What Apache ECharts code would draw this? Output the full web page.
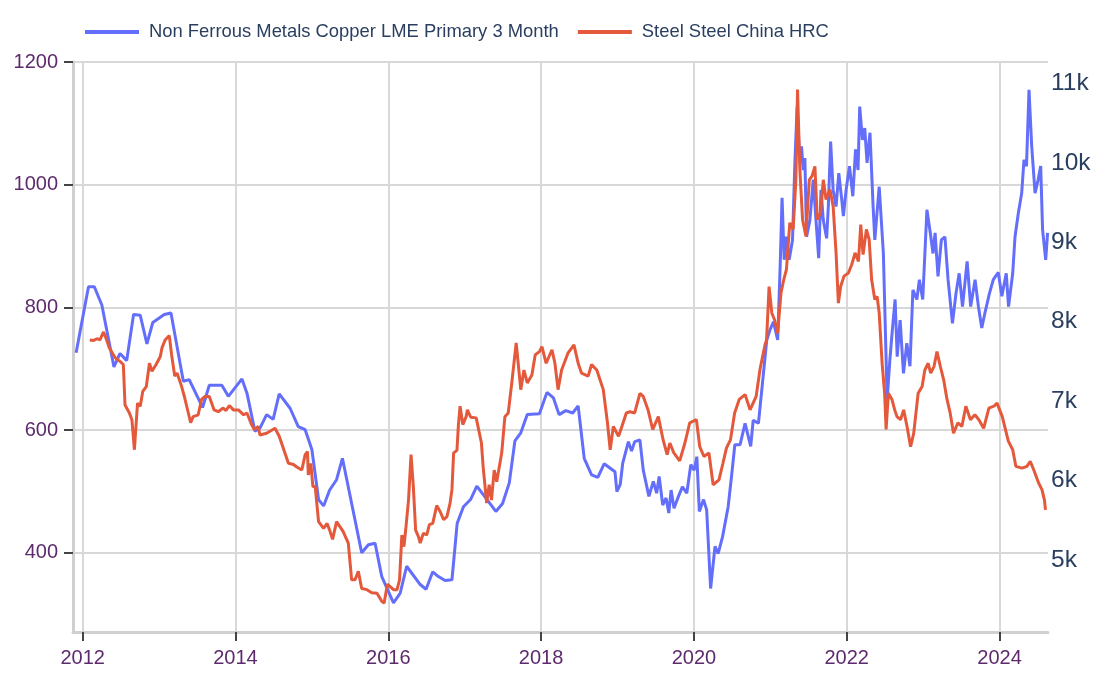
<!DOCTYPE html>
<html>
<head>
<meta charset="utf-8">
<script src="https://cdn.jsdelivr.net/npm/echarts@6/dist/echarts.min.js"></script>
<style>html,body{margin:0;padding:0;background:#fff}#c{width:1100px;height:700px}</style>
</head>
<body>
<div id="c"></div>
<script>
var seriesNames = ['Non Ferrous Metals Copper LME Primary 3 Month', 'Steel Steel China HRC'];
var xTickYears = [2012, 2014, 2016, 2018, 2020, 2022, 2024];
var leftTicks = [400, 600, 800, 1000, 1200];
var rightTicks = [5000, 6000, 7000, 8000, 9000, 10000, 11000];
var xRange = ['2011-11-16', '2024-08-20'];

var copperDates = ['2011-12-01','2012-01-29','2012-02-26','2012-04-02','2012-05-30','2012-06-28','2012-07-30','2012-09-01','2012-10-03','2012-11-04','2012-12-02',
'2013-01-26','2013-02-27','2013-04-27','2013-05-25','2013-07-28','2013-08-29','2013-10-28','2013-11-28','2014-02-01','2014-02-25','2014-04-04','2014-04-28','2014-05-30','2014-06-30','2014-07-29','2014-09-19','2014-10-28','2014-11-30',
'2015-01-01','2015-02-02','2015-02-26','2015-03-27','2015-04-29','2015-05-27','2015-08-27','2015-09-28','2015-10-30','2015-12-01',
'2016-01-26','2016-02-27','2016-03-29','2016-06-02','2016-06-30','2016-08-01','2016-08-28','2016-09-29','2016-11-01','2016-11-26','2016-12-26',
'2017-01-29','2017-02-28','2017-05-30','2017-07-01','2017-08-02','2017-08-29','2017-09-26','2017-10-27','2017-12-24',
'2018-01-29','2018-03-01','2018-03-28','2018-04-29','2018-06-01','2018-06-27','2018-07-26','2018-08-30','2018-09-29','2018-10-29','2018-12-20','2018-12-29',
'2019-01-14','2019-01-26','2019-02-22','2019-03-09','2019-03-24','2019-04-18','2019-05-04','2019-05-31','2019-06-21','2019-07-07','2019-07-19','2019-08-05','2019-08-21','2019-09-03','2019-09-14','2019-09-28','2019-10-19','2019-11-07','2019-11-28','2019-12-17',
'2020-01-02','2020-01-15','2020-01-27','2020-02-16','2020-03-02','2020-03-21','2020-04-11','2020-04-26','2020-05-17','2020-06-13','2020-06-29','2020-07-15','2020-08-09','2020-09-02','2020-09-29','2020-10-11','2020-11-05','2020-11-26','2020-12-15','2020-12-31',
'2021-01-16','2021-02-05','2021-02-17','2021-02-26','2021-03-08','2021-03-19','2021-04-01','2021-04-17','2021-04-28','2021-05-09','2021-05-22','2021-05-30','2021-06-07','2021-06-15','2021-06-23','2021-07-09','2021-07-25','2021-08-07','2021-08-20','2021-08-31','2021-09-11','2021-09-27','2021-10-05','2021-10-16','2021-10-28','2021-11-11','2021-11-24','2021-12-08','2021-12-16','2021-12-29',
'2022-01-14','2022-01-30','2022-02-12','2022-02-24','2022-03-04','2022-03-17','2022-03-28','2022-04-08','2022-04-22','2022-05-07','2022-05-15','2022-06-05','2022-06-25','2022-07-13','2022-07-26','2022-08-07','2022-08-20','2022-08-30','2022-09-13','2022-09-29','2022-10-15','2022-10-30','2022-11-13','2022-12-02','2022-12-14','2022-12-30',
'2023-01-19','2023-02-04','2023-02-17','2023-02-27','2023-03-13','2023-03-29','2023-04-15','2023-04-30','2023-05-21','2023-06-07','2023-06-22','2023-07-08','2023-07-30','2023-08-16','2023-09-06','2023-09-22','2023-10-08','2023-10-23','2023-11-14','2023-12-02','2023-12-26',
'2024-01-12','2024-02-02','2024-02-13','2024-03-04','2024-03-15','2024-03-31','2024-04-16','2024-04-27','2024-05-09','2024-05-21','2024-06-03','2024-06-19','2024-07-04','2024-07-16','2024-07-25','2024-08-09','2024-08-18'];
var copperValues = [7610,8440,8440,8210,7430,7600,7510,8090,8080,7720,7990,
8090,8110,7250,7270,6920,7200,7200,7060,7280,7100,6620,6660,6830,6770,7090,6910,6680,6640,
6390,5760,5680,5880,6010,6280,5090,5190,5210,4790,
4460,4580,4920,4690,4630,4850,4790,4740,4750,5460,5670,
5760,5930,5610,5710,5970,6500,6600,6830,6840,
7110,7040,6830,6880,6850,6940,6280,6070,6040,6210,6110,5860,
5950,6220,6490,6370,6490,6510,6130,5800,5990,5840,6050,5690,5780,5590,5880,5650,5800,5920,5840,6200,
6130,6300,5610,5760,5630,4640,5170,5080,5290,5670,6050,6450,6450,6720,6430,6760,6720,7270,7770,7900,
8000,7770,8700,9560,8780,9070,8780,9030,9980,10710,10000,10210,9910,10060,9070,9280,9790,9280,8800,9660,9280,9050,9450,10270,9660,9450,9870,9540,9330,9660,
9960,9580,10170,9910,10710,10290,10440,10000,10380,9450,9030,9700,8860,7020,7520,7900,8280,7560,8020,7350,7730,7440,8400,8280,8530,8280,
9410,9120,8860,9120,8570,9030,9070,8530,7980,8360,8610,8190,8760,8190,8530,8190,7920,8110,8360,8530,8620,
8320,8610,8190,8610,9070,9370,9620,10040,9960,10920,10210,9620,9790,9960,9160,8780,9120];

var steelDates = ['2012-02-04','2012-02-23','2012-03-09','2012-03-24','2012-04-10','2012-04-22','2012-05-08','2012-06-05','2012-06-28','2012-07-14','2012-07-22','2012-08-12','2012-08-24','2012-09-05','2012-09-20','2012-10-03','2012-10-15','2012-11-01','2012-11-16','2012-11-28','2012-12-18',
'2013-01-07','2013-01-15','2013-01-30','2013-02-19','2013-03-02','2013-03-17','2013-03-28','2013-04-19','2013-05-04','2013-06-01','2013-06-13','2013-07-07','2013-07-23','2013-08-09','2013-08-29','2013-09-21','2013-10-11','2013-11-02','2013-11-17','2013-12-03','2013-12-22',
'2014-01-15','2014-02-09','2014-02-25','2014-03-19','2014-04-01','2014-04-20','2014-04-28','2014-05-30','2014-07-09','2014-07-29','2014-09-11','2014-10-05','2014-10-21','2014-11-14','2014-11-30','2014-12-11','2014-12-15','2014-12-27',
'2015-01-06','2015-01-17','2015-02-02','2015-02-26','2015-03-15','2015-03-27','2015-04-10','2015-04-29','2015-05-30','2015-06-24','2015-07-10','2015-07-26','2015-08-11','2015-08-27','2015-09-21','2015-10-14','2015-11-08','2015-12-01','2015-12-12','2015-12-28',
'2016-01-10','2016-01-26','2016-02-12','2016-02-24','2016-03-06','2016-03-16','2016-03-26','2016-04-07','2016-04-19','2016-04-30','2016-05-11','2016-05-24','2016-06-02','2016-06-17','2016-07-03','2016-07-16','2016-08-01','2016-08-20','2016-09-06','2016-09-22','2016-10-08','2016-10-23','2016-11-01','2016-11-09','2016-11-25','2016-12-02','2016-12-10','2016-12-23',
'2017-01-08','2017-01-14','2017-01-30','2017-02-25','2017-03-22','2017-03-30','2017-04-16','2017-04-28','2017-05-09','2017-05-22','2017-06-03','2017-06-27','2017-07-12','2017-07-28','2017-08-14','2017-09-04','2017-09-26','2017-10-11','2017-10-27','2017-11-18','2017-12-04','2017-12-24',
'2018-01-05','2018-01-25','2018-02-22','2018-03-08','2018-03-23','2018-04-09','2018-05-10','2018-06-07','2018-06-27','2018-07-13','2018-08-14','2018-08-30','2018-09-24','2018-10-25','2018-11-14','2018-11-27','2018-12-12',
'2019-01-06','2019-01-22','2019-02-12','2019-03-01','2019-03-24','2019-04-18','2019-05-04','2019-05-27','2019-06-18','2019-07-15','2019-08-07','2019-08-26','2019-09-08','2019-09-27','2019-10-25','2019-11-19','2019-12-12',
'2020-01-13','2020-01-29','2020-02-18','2020-03-13','2020-04-02','2020-04-30','2020-05-19','2020-06-05','2020-06-24','2020-07-14','2020-08-05','2020-09-02','2020-09-26','2020-10-25','2020-11-13','2020-12-07','2020-12-14','2020-12-26',
'2021-01-08','2021-01-21','2021-02-05','2021-02-21','2021-03-06','2021-03-19','2021-04-04','2021-04-20','2021-05-03','2021-05-11','2021-05-22','2021-06-04','2021-06-20','2021-07-06','2021-07-19','2021-08-02','2021-08-13','2021-08-29','2021-09-11','2021-09-24','2021-10-13','2021-10-28','2021-11-11','2021-11-22','2021-12-03','2021-12-19',
'2022-01-09','2022-01-25','2022-02-10','2022-02-26','2022-03-09','2022-03-20','2022-04-05','2022-04-18','2022-04-30','2022-05-15','2022-05-26','2022-06-05','2022-06-19','2022-07-01','2022-07-08','2022-07-19','2022-08-05','2022-08-18','2022-08-29','2022-09-15','2022-09-30','2022-10-16','2022-11-02','2022-11-17','2022-12-08','2022-12-27',
'2023-01-09','2023-01-25','2023-02-06','2023-02-22','2023-03-08','2023-03-24','2023-04-09','2023-04-25','2023-05-10','2023-05-26','2023-06-16','2023-07-05','2023-07-24','2023-08-15','2023-09-05','2023-09-24','2023-10-17','2023-11-11','2023-12-05','2023-12-20',
'2024-01-14','2024-02-12','2024-03-04','2024-03-19','2024-04-18','2024-05-11','2024-05-27','2024-06-13','2024-07-06','2024-07-22','2024-08-03','2024-08-08'];
var steelValues = [747,746,749,747,760,750,734,718,712,707,641,628,617,568,644,639,663,671,709,696,707,
720,734,747,754,723,688,693,671,652,612,622,625,650,655,655,633,630,636,632,640,633,
633,625,628,609,601,606,592,595,603,590,546,544,540,535,560,565,527,546,
508,508,451,440,448,437,422,451,435,416,356,356,370,342,340,335,334,321,318,349,
345,340,340,356,429,410,443,486,560,508,437,427,416,432,429,446,448,477,467,454,459,481,503,563,567,609,639,609,
622,633,621,620,579,541,481,511,486,535,516,563,622,628,677,742,666,698,677,690,723,728,
736,709,731,709,666,698,726,739,709,693,688,707,698,666,612,568,606,
590,606,628,630,628,660,655,633,601,622,584,560,579,563,550,579,612,
617,573,557,563,511,519,546,571,584,628,650,658,633,655,700,740,747,834,
791,780,758,824,845,862,938,927,1008,1155,1025,943,916,1008,1014,1030,943,954,1008,976,992,965,889,807,834,851,
856,870,889,875,935,886,927,911,845,813,818,791,709,660,601,660,650,633,622,617,633,606,573,595,660,671,
698,709,693,704,728,704,682,650,628,595,612,606,639,617,625,617,603,636,639,644,
622,582,568,541,538,541,549,535,514,503,486,470];

// Convert an ISO date string to a fractional year (time position on a linear value axis)
function toYear(s) {
  var p = s.split('-').map(Number);
  var start = Date.UTC(p[0], 0, 1), end = Date.UTC(p[0] + 1, 0, 1);
  return p[0] + (Date.UTC(p[0], p[1] - 1, p[2]) - start) / (end - start);
}
function pairs(d, v) { return d.map(function (x, i) { return [toYear(x), v[i]]; }); }

var FONT = 'Liberation Sans, Arial, sans-serif';
var chart = echarts.init(document.getElementById('c'), null, { renderer: 'canvas' });
chart.setOption({
  animation: false,
  backgroundColor: '#fff',
  legend: {
    left: 85, top: 20, padding: 0, icon: 'rect', itemWidth: 54, itemHeight: 4, itemGap: 19,
    textStyle: { fontFamily: FONT, fontSize: 18.4, color: '#2a3f5f', lineHeight: 24, padding: [0, 0, 0, 5] },
    data: seriesNames
  },
  grid: { left: 73, right: 52, top: 62, bottom: 68, outerBoundsMode: 'none' },
  xAxis: {
    type: 'value', min: toYear(xRange[0]), max: toYear(xRange[1]),
    axisLine: { show: true, lineStyle: { color: '#d0d0d0', width: 3 } },
    axisTick: { show: true, length: 9, lineStyle: { color: '#444', width: 2 }, customValues: xTickYears },
    axisLabel: {
      customValues: xTickYears, margin: 16, fontSize: 20, color: '#5e2a6e', fontFamily: FONT,
      formatter: function (v) { return String(Math.round(v)); }
    },
    splitLine: { show: true, lineStyle: { color: '#d8d8d8', width: 2 } }
  },
  yAxis: [{
    type: 'value', min: 271, max: 1200, position: 'left',
    axisLine: { show: true, lineStyle: { color: '#d0d0d0', width: 3 } },
    axisTick: { show: true, length: 9, lineStyle: { color: '#444', width: 2 }, customValues: leftTicks },
    axisLabel: { customValues: leftTicks, margin: 15, fontSize: 20, color: '#5e2a6e', fontFamily: FONT,
      formatter: function (v) { return String(v); } },
    splitLine: { show: true, lineStyle: { color: '#d8d8d8', width: 2 } }
  }, {
    type: 'value', min: 4092, max: 11271, position: 'right',
    axisLine: { show: false }, axisTick: { show: false },
    axisLabel: { customValues: rightTicks, margin: 3, fontSize: 24.5, color: '#2a3f5f', fontFamily: FONT,
      formatter: function (v) { return (v / 1000) + 'k'; } },
    splitLine: { show: false }
  }],
  series: [{
    name: seriesNames[0], type: 'line', yAxisIndex: 1, showSymbol: false,
    lineStyle: { width: 3, color: '#636efa' }, itemStyle: { color: '#636efa' },
    data: pairs(copperDates, copperValues)
  }, {
    name: seriesNames[1], type: 'line', yAxisIndex: 0, showSymbol: false,
    lineStyle: { width: 3, color: '#e4593b' }, itemStyle: { color: '#e4593b' },
    data: pairs(steelDates, steelValues)
  }]
});
</script>
</body>
</html>
